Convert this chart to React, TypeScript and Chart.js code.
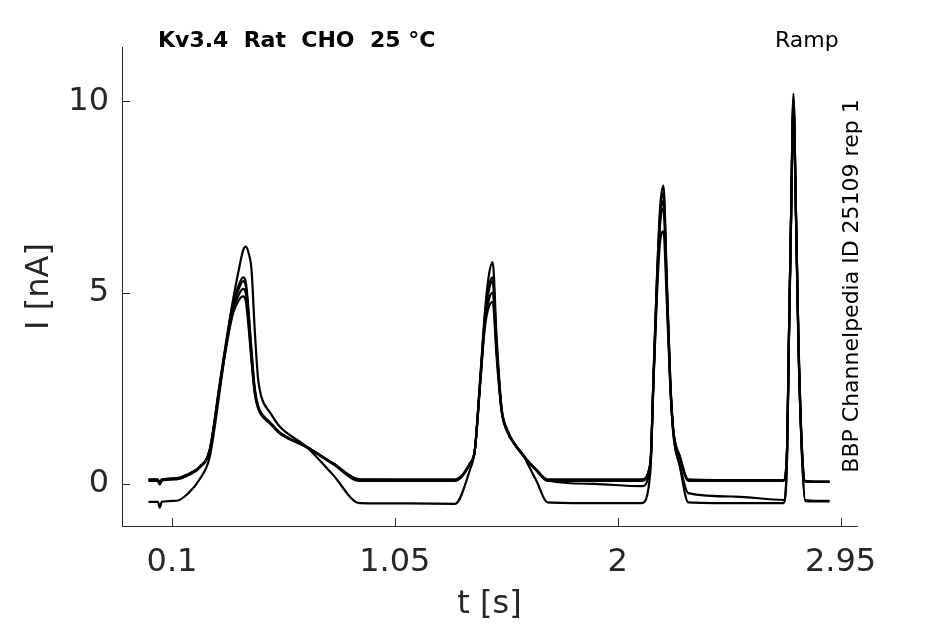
import React, { useEffect, useRef } from 'react';
import { Chart, registerables } from 'chart.js';

Chart.register(...registerables);

// time axis [s], shared by all sweeps
const tSec = [
  0, 0.04, 0.048, 0.056, 0.12, 0.17, 0.218, 0.261, 0.303, 0.332, 0.36, 0.385, 0.403, 0.414, 0.428, 0.439,
  0.453, 0.467, 0.481, 0.52, 0.559, 0.673, 0.786, 0.9, 1.1,
  1.306, 1.37, 1.391, 1.413, 1.434, 1.452, 1.467, 1.484, 1.505, 1.527, 1.569, 1.597, 1.612, 1.655, 1.7, 1.9,
  2.103, 2.139, 2.152, 2.167, 2.181, 2.195, 2.209, 2.224, 2.237, 2.265, 2.301, 2.5,
  2.707, 2.722, 2.729, 2.739, 2.749, 2.76, 2.771, 2.785, 2.799, 2.85, 2.903,
];

// current [nA] per sweep
const sweepA = [
  0.12, 0.12, 0.0, 0.12, 0.15, 0.26, 0.45, 0.9, 2.6, 3.76, 4.72, 5.2, 5.4, 5.3, 4.4, 3.5,
  2.5, 2.05, 1.85, 1.6, 1.35, 0.97, 0.54, 0.12, 0.12,
  0.12, 0.54, 0.89, 2.63, 4.37, 5.2, 5.4, 3.6, 1.95, 1.42, 0.98, 0.76, 0.64, 0.36, 0.12, 0.12,
  0.12, 0.54, 2.7, 5.3, 7.1, 7.6, 5.3, 2.7, 1.42, 0.72, 0.12, 0.1,
  0.1, 0.97, 3.58, 7.07, 10.1, 7.07, 3.58, 0.97, 0.08, 0.06, 0.06,
];
const sweepB = [
  0.08, 0.08, -0.02, 0.08, 0.12, 0.23, 0.42, 0.88, 2.55, 3.7, 4.65, 5.1, 5.3, 5.2, 4.3, 3.4,
  2.45, 2.0, 1.82, 1.58, 1.33, 0.96, 0.52, 0.08, 0.08,
  0.08, 0.52, 0.88, 2.6, 4.3, 5.1, 5.3, 3.55, 1.93, 1.4, 0.96, 0.74, 0.62, 0.34, 0.08, 0.08,
  0.08, 0.52, 2.65, 5.2, 6.95, 7.4, 5.2, 2.65, 1.4, 0.7, 0.08, 0.08,
  0.08, 0.95, 3.55, 7.0, 10.0, 7.0, 3.55, 0.95, 0.06, 0.05, 0.05,
];
const sweepC = [
  0.1, 0.1, 0.02, 0.1, 0.13, 0.24, 0.44, 0.88, 2.5, 3.6, 4.45, 4.8, 4.9, 4.8, 4.0, 3.2,
  2.35, 1.98, 1.8, 1.57, 1.32, 0.97, 0.53, 0.1, 0.1,
  0.1, 0.53, 0.88, 2.55, 4.1, 4.65, 4.75, 3.3, 1.9, 1.4, 0.97, 0.75, 0.63, 0.35, 0.1, 0.1,
  0.1, 0.5, 2.55, 4.9, 6.35, 6.6, 4.8, 2.55, 1.38, 0.7, 0.1, 0.1,
  0.1, 0.93, 3.45, 6.9, 9.8, 6.9, 3.45, 0.93, 0.07, 0.06, 0.06,
];
const sweepD = [
  0.11, 0.11, 0.01, 0.11, 0.14, 0.25, 0.44, 0.89, 2.55, 3.65, 4.55, 4.95, 5.1, 5.0, 4.15, 3.3,
  2.4, 2.0, 1.83, 1.58, 1.34, 0.97, 0.54, 0.11, 0.1,
  0.1, 0.53, 0.88, 2.58, 4.2, 4.85, 5.0, 3.45, 1.92, 1.41, 0.97, 0.75, 0.63, 0.35, 0.09, 0.0,
  -0.06, 0.45, 2.6, 5.1, 6.8, 7.2, 5.1, 2.6, 1.3, 0.5, -0.24, -0.33,
  -0.42, 0.7, 3.5, 6.95, 9.9, 6.95, 3.5, 0.8, -0.42, -0.44, -0.44,
];
const sweepE = [
  -0.47, -0.47, -0.62, -0.47, -0.44, -0.24, 0.12, 0.71, 2.4, 3.7, 4.8, 5.6, 6.1, 6.2, 6.0, 5.6,
  4.0, 2.75, 2.28, 1.85, 1.5, 0.97, 0.24, -0.5, -0.51,
  -0.52, 0.37, 0.89, 2.7, 4.5, 5.5, 5.8, 3.8, 2.0, 1.45, 0.97, 0.76, 0.58, 0.06, -0.48, -0.5,
  -0.5, 0.3, 2.7, 5.35, 7.25, 7.8, 5.4, 2.75, 1.35, 0.45, -0.48, -0.5,
  -0.5, 0.75, 3.5, 7.0, 10.2, 7.1, 3.6, 0.8, -0.45, -0.46, -0.46,
];

const sweeps = [sweepA, sweepB, sweepC, sweepD, sweepE];
const xTicks = [0.1, 1.05, 2, 2.95];
const yTicks = [0, 5, 10];

const titleText = 'Kv3.4  Rat  CHO  25 °C';
const protocolText = 'Ramp';
const sourceText = 'BBP Channelpedia ID 25109 rep 1';

const FONT = '"DejaVu Sans", sans-serif';
const AXIS_COLOR = '#262626';

const decorPlugin = {
  id: 'decor',
  afterDraw(chart: any) {
    const { ctx, chartArea, scales } = chart;
    ctx.save();
    ctx.strokeStyle = AXIS_COLOR;
    ctx.lineWidth = 1;
    ctx.beginPath();
    xTicks.forEach((v) => {
      const x = Math.round(scales.x.getPixelForValue(v)) + 0.5;
      ctx.moveTo(x, chartArea.bottom);
      ctx.lineTo(x, chartArea.bottom - 8);
    });
    yTicks.forEach((v) => {
      const y = Math.round(scales.y.getPixelForValue(v)) + 0.5;
      ctx.moveTo(chartArea.left, y);
      ctx.lineTo(chartArea.left + 8, y);
    });
    ctx.stroke();

    ctx.fillStyle = '#000';
    ctx.textBaseline = 'alphabetic';
    ctx.textAlign = 'left';
    ctx.font = `bold 22px ${FONT}`;
    ctx.fillText(titleText, 158, 47);
    ctx.font = `22px ${FONT}`;
    ctx.fillText(protocolText, 775, 47);

    ctx.translate(858, 286);
    ctx.rotate(-Math.PI / 2);
    ctx.textAlign = 'center';
    ctx.fillText(sourceText, 0, 0);
    ctx.restore();
  },
};

const RampChart: React.FC = () => {
  const canvasRef = useRef<HTMLCanvasElement | null>(null);

  useEffect(() => {
    if (!canvasRef.current) return;
    const ctx = canvasRef.current.getContext('2d');
    if (!ctx) return;

    const chart = new Chart(ctx, {
      type: 'line',
      data: {
        datasets: sweeps.map((s) => ({
          data: tSec.map((t, i) => ({ x: t, y: s[i] })),
          borderColor: '#000',
          borderWidth: 2.2,
          pointRadius: 0,
          fill: false,
          cubicInterpolationMode: 'monotone' as const,
        })),
      },
      options: {
        animation: false,
        responsive: false,
        devicePixelRatio: 1,
        layout: { padding: { top: 47, right: 88, left: 0, bottom: 0 } },
        plugins: { legend: { display: false }, tooltip: { enabled: false } },
        scales: {
          x: {
            type: 'linear',
            min: -0.113,
            max: 3.02,
            afterBuildTicks: (scale: any) => {
              scale.ticks = xTicks.map((v) => ({ value: v }));
            },
            afterFit: (scale: any) => {
              scale.height = 98;
            },
            grid: { display: false },
            border: { display: true, color: AXIS_COLOR, width: 1 },
            ticks: {
              autoSkip: false,
              maxRotation: 0,
              padding: 9,
              color: AXIS_COLOR,
              font: { family: FONT, size: 32 },
              callback: (v: any) => String(v),
            },
            title: {
              display: true,
              text: 't [s]',
              color: AXIS_COLOR,
              font: { family: FONT, size: 32 },
              padding: { top: 0, bottom: 0 },
            },
          },
          y: {
            type: 'linear',
            min: -1.1,
            max: 11.42,
            afterBuildTicks: (scale: any) => {
              scale.ticks = yTicks.map((v) => ({ value: v }));
            },
            afterFit: (scale: any) => {
              scale.width = 122;
            },
            grid: { display: false },
            border: { display: true, color: AXIS_COLOR, width: 1 },
            ticks: {
              autoSkip: false,
              padding: 5,
              color: AXIS_COLOR,
              font: { family: FONT, size: 32 },
              callback: (v: any) => String(v),
            },
            title: {
              display: true,
              text: 'I [nA]',
              color: AXIS_COLOR,
              font: { family: FONT, size: 32 },
              padding: { top: 20, bottom: 0 },
            },
          },
        },
      },
      plugins: [decorPlugin],
    });

    return () => chart.destroy();
  }, []);

  return <canvas ref={canvasRef} width={945} height={624} />;
};

export default function App() {
  return (
    <div style={{ position: 'absolute', left: 0, top: 0, width: 945, height: 624, background: '#fff' }}>
      <RampChart />
    </div>
  );
}
